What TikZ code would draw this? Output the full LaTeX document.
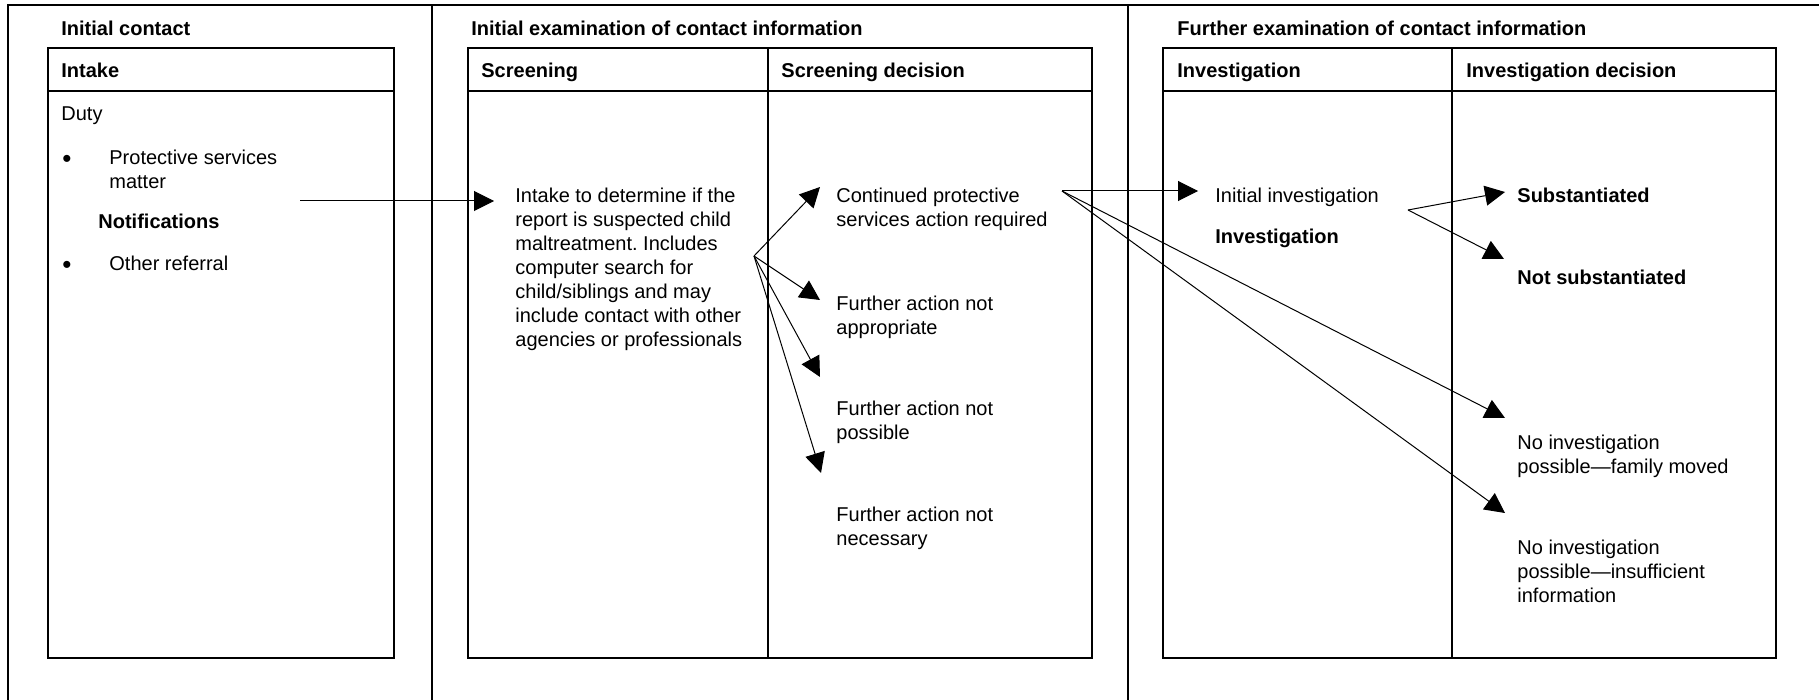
\documentclass[tikz,border=0pt]{standalone}
\usepackage{fontspec}
\setmainfont{Liberation Sans}
\usetikzlibrary{arrows.meta}
\frenchspacing
\begin{document}
\begin{tikzpicture}[x=0.5pt,y=-0.5pt,
  frame/.style={line width=0.85pt},
  divider/.style={line width=0.7pt},
  arr/.style={line width=0.5pt,-{Triangle[length=10pt,width=10pt]}},
  txt/.style={anchor=north west,inner sep=0pt,align=left,font=\fontsize{10}{12}\selectfont\frenchspacing},
  btxt/.style={txt,font=\fontsize{10}{12}\selectfont\bfseries},
  bul/.style={anchor=center,inner sep=0pt,font=\fontsize{13}{13}\selectfont}]
\useasboundingbox (0,0) rectangle (1819,700);

% outer frame and panel dividers
\draw[frame] (8,700) -- (8,5) -- (1830,5);
\draw[divider] (432,5) -- (432,705);
\draw[divider] (1128,5) -- (1128,705);

% boxes
\draw[frame] (48,48) rectangle (394,658);
\draw[frame] (48,91) -- (394,91);
\draw[frame] (468,48) rectangle (1092,658);
\draw[frame] (468,91) -- (1092,91);
\draw[frame] (768,48) -- (768,658);
\draw[frame] (1163,48) rectangle (1776,658);
\draw[frame] (1163,91) -- (1776,91);
\draw[frame] (1452,48) -- (1452,658);

% panel titles
\node[btxt] (t1) at (61,18.4) {\strut Initial contact};
\node[btxt] (t2) at (471,18.4) {\strut Initial examination of contact information};
\node[btxt] (t3) at (1177,18.4) {\strut Further examination of contact information};

% headers
\node[btxt] (hIntake) at (61,60.4) {\strut Intake};
\node[btxt] (hScr) at (481,60.4) {\strut Screening};
\node[btxt] (hScrD) at (781,60.4) {\strut Screening decision};
\node[btxt] (hInv) at (1177,60.4) {\strut Investigation};
\node[btxt] (hInvD) at (1466,60.4) {\strut Investigation decision};

% left panel
\node[txt] (duty) at (61,103.4) {\strut Duty};
\node[bul] (b1) at (67,161) {•};
\node[txt] (psm) at (109,147.4) {\strut Protective services\\matter};
\node[btxt] (notif) at (98,211.4) {\strut Notifications};
\node[bul] (b2) at (67,267) {•};
\node[txt] (oref) at (109,253.4) {\strut Other referral};

% screening
\node[txt] (scr) at (515,185.4) {\strut Intake to determine if the\\report is suspected child\\maltreatment. Includes\\computer search for\\child/siblings and may\\include contact with other\\agencies or professionals};

% screening decisions
\node[txt] (cont) at (836,185.4) {\strut Continued protective\\services action required};
\node[txt] (appr) at (836,293.4) {\strut Further action not\\appropriate};
\node[txt] (poss) at (836,398.4) {\strut Further action not\\possible};
\node[txt] (nece) at (836,504.4) {\strut Further action not\\necessary};

% investigation
\node[txt] (iinv) at (1215,185.4) {\strut Initial investigation};
\node[btxt] (inv) at (1215,226.4) {\strut Investigation};

% investigation decisions
\node[btxt] (subs) at (1517,185.4) {\strut Substantiated};
\node[btxt] (nsubs) at (1517,267.4) {\strut Not substantiated};
\node[txt] (nfam) at (1517,432.4) {\strut No investigation\\possible—family moved};
\node[txt] (ninf) at (1517,537.4) {\strut No investigation\\possible—insufficient\\information};

% connector points
\coordinate (inA) at (300,201);
\coordinate (scrTip) at (494,201);
\coordinate (f1) at (754,256);
\coordinate (t11) at (820,187);
\coordinate (t12) at (820,300);
\coordinate (t13) at (820,377);
\coordinate (t14) at (821,473);
\coordinate (f2) at (1062,191);
\coordinate (t21) at (1198,191);
\coordinate (t22) at (1505,418);
\coordinate (t23) at (1505,513);
\coordinate (f3) at (1408,210);
\coordinate (t31) at (1505,192);
\coordinate (t32) at (1504,259);

\draw[arr] (inA) -- (scrTip);
\draw[arr] (f1) -- (t11);
\draw[arr] (f1) -- (t12);
\draw[arr] (f1) -- (t13);
\draw[arr] (f1) -- (t14);
\draw[arr] (f2) -- (t21);
\draw[arr] (f2) -- (t22);
\draw[arr] (f2) -- (t23);
\draw[arr] (f3) -- (t31);
\draw[arr] (f3) -- (t32);
\end{tikzpicture}
\end{document}
